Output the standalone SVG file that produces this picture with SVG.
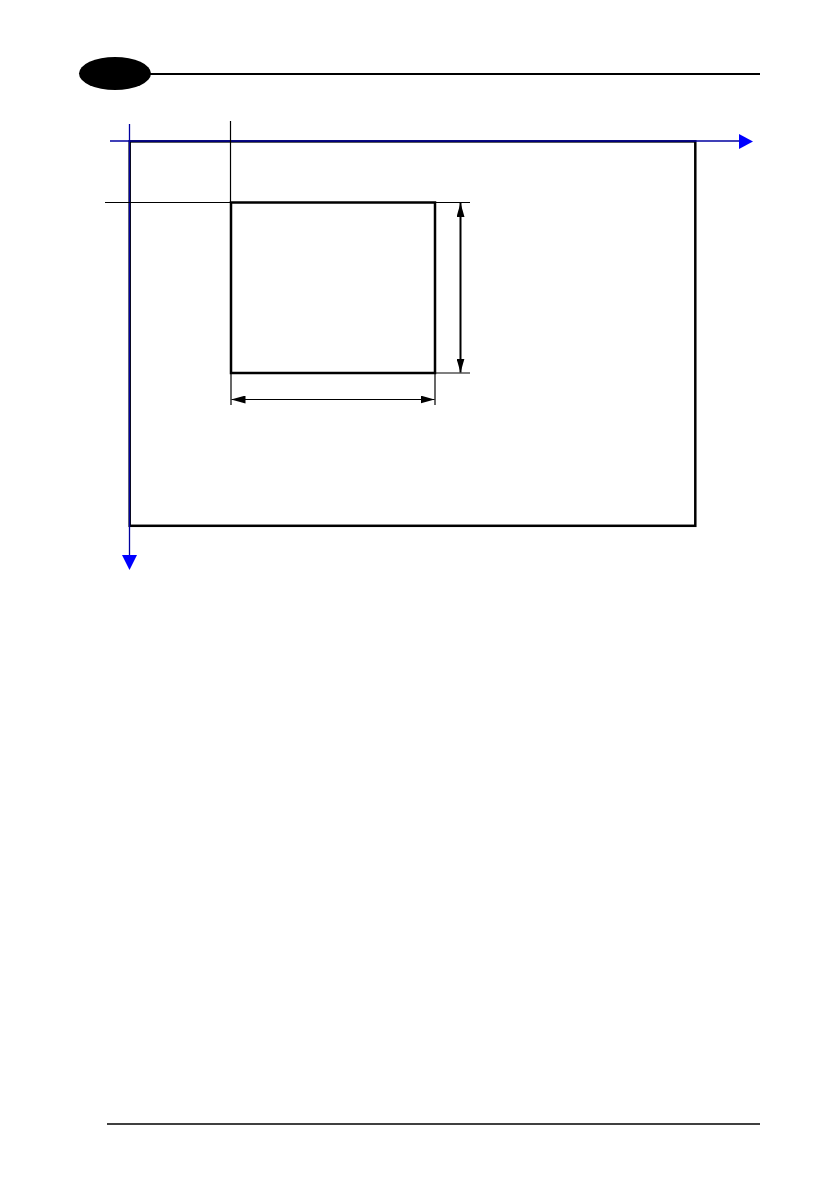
<svg xmlns="http://www.w3.org/2000/svg" width="839" height="1191" viewBox="0 0 839 1191">
<style>
.thin{stroke:#000;stroke-width:1.2;fill:none}
.box{stroke:#000;stroke-width:2.5;fill:none}
.axis{stroke:#0000a0;stroke-width:1.3;fill:none}
.dim{stroke:#000;stroke-width:2;fill:none}
</style>
<defs>
<marker id="ah" viewBox="0 0 14 8" refX="14" refY="4" markerWidth="14" markerHeight="8" markerUnits="userSpaceOnUse" orient="auto-start-reverse">
<path d="M0,0 L14,4 L0,8 Z" fill="#000"/>
</marker>
</defs>
<rect width="839" height="1191" fill="#fff"/>
<g id="header">
<ellipse cx="115" cy="73.5" rx="36" ry="16.5" fill="#000"/>
<line x1="150" y1="74" x2="760" y2="74" stroke="#000" stroke-width="2"/>
</g>
<g id="footer">
<line x1="107" y1="1124" x2="760" y2="1124" stroke="#000" stroke-width="1.5"/>
</g>
<g id="outer-frame">
<rect x="129.7" y="141.4" width="565.6" height="384.4" class="box"/>
</g>
<g id="inner-window">
<rect x="231" y="202.5" width="204" height="170.5" class="box" stroke-width="2"/>
</g>
<g id="connectors">
<line x1="110" y1="141" x2="741" y2="141" class="axis"/>
<polygon points="739,134 739,149 753,141.5" fill="#0000ff"/>
<line x1="129.5" y1="124" x2="129.5" y2="557" class="axis" stroke-width="1.6"/>
<polygon points="122,555 137,555 129.5,570" fill="#0000ff"/>
<line x1="230.5" y1="121" x2="230.5" y2="203" class="thin"/>
<line x1="105" y1="202.5" x2="231" y2="202.5" class="thin"/>
<line x1="435" y1="202.5" x2="470" y2="202.5" class="thin"/>
<line x1="435" y1="373" x2="470" y2="373" class="thin"/>
<line x1="231" y1="373" x2="231" y2="405" class="thin"/>
<line x1="435" y1="373" x2="435" y2="405" class="thin"/>
<line x1="460.5" y1="203" x2="460.5" y2="372.5" class="dim" marker-start="url(#ah)" marker-end="url(#ah)"/>
<line x1="231.5" y1="399.5" x2="434.5" y2="399.5" class="thin" stroke-width="1.5" marker-start="url(#ah)" marker-end="url(#ah)"/>
</g>
</svg>
